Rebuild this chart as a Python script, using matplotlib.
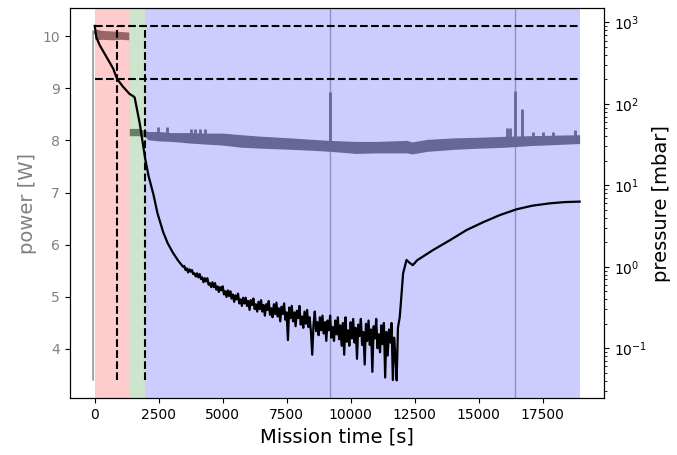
import numpy as np
import matplotlib
matplotlib.use('Agg')
import matplotlib.pyplot as plt

# power band (envelope)
band_t = [0, 300, 700, 1000, 1330, 1350, 1700, 1960, 2100, 2500, 3000, 3700, 4300, 5000, 5700, 6500,
          7600, 8500, 9200, 10200, 11000, 12200, 12400, 13000, 14100, 15000, 16100, 17000, 18000, 18950]
band_lo = [9.93, 9.94, 9.93, 9.94, 9.93, 8.09, 8.09, 8.07, 8.01, 7.99, 7.98, 7.95, 7.93, 7.91, 7.87, 7.85,
           7.83, 7.81, 7.79, 7.75, 7.76, 7.76, 7.74, 7.79, 7.83, 7.85, 7.87, 7.90, 7.92, 7.94]
band_hi = [10.14, 10.11, 10.10, 10.09, 10.08, 8.23, 8.23, 8.19, 8.17, 8.17, 8.15, 8.15, 8.14, 8.14, 8.11, 8.08,
           8.05, 8.02, 8.00, 7.98, 7.98, 8.00, 7.97, 8.02, 8.05, 8.06, 8.08, 8.09, 8.10, 8.11]
power_start_t = [-65, -65, 0]
power_start = [3.4, 10.1, 10.05]
spike_t = [2475, 2827, 3780, 3910, 4105, 4300, 9187, 16094, 16240, 16420, 16705, 17130, 17520, 17900, 18760]
spike_base = [8.1, 8.1, 8.05, 8.05, 8.05, 8.05, 7.9, 8.0, 8.0, 8.0, 8.0, 8.0, 8.0, 8.0, 8.05]
spike_w = [8.26, 8.26, 8.22, 8.22, 8.22, 8.22, 8.93, 8.24, 8.24, 8.95, 8.61, 8.17, 8.17, 8.17, 8.19]
event_t = [9187, 16420]

# pressure (log10 mbar): pump-down, noisy floor, venting
p_t_start = [0, 60, 195, 456, 717, 872, 1107, 1368, 1498, 1560, 1759, 1970, 2100, 2200, 2300, 2450,
             2670, 2850, 3061, 3250, 3452]
p_log_start = [2.957, 2.82, 2.72, 2.578, 2.436, 2.307, 2.21, 2.12, 2.096, 2.08, 1.76, 1.33, 1.12, 1.00, 0.88,
               0.66, 0.43, 0.29, 0.17, 0.08, 0.0]
p_t_noisy = list(range(3500, 11900, 50))
p_log_noisy = [
    0.01, -0.04, -0.02, -0.07, -0.03, -0.06, -0.04, -0.09, -0.08, -0.12,
    -0.08, -0.13, -0.09, -0.15, -0.13, -0.19, -0.14, -0.18, -0.14, -0.22,
    -0.20, -0.25, -0.19, -0.25, -0.20, -0.28, -0.24, -0.31, -0.25, -0.29,
    -0.24, -0.34, -0.30, -0.37, -0.29, -0.36, -0.30, -0.39, -0.34, -0.43,
    -0.35, -0.40, -0.33, -0.45, -0.40, -0.48, -0.38, -0.45, -0.38, -0.48,
    -0.42, -0.53, -0.41, -0.47, -0.39, -0.52, -0.46, -0.55, -0.43, -0.52,
    -0.41, -0.55, -0.47, -0.60, -0.46, -0.53, -0.42, -0.59, -0.51, -0.62,
    -0.46, -0.58, -0.44, -0.61, -0.51, -0.67, -0.49, -0.58, -0.45, -0.65,
    -0.56, -0.90, -0.50, -0.63, -0.48, -0.67, -0.56, -0.73, -0.54, -0.63,
    -0.48, -0.71, -0.61, -0.75, -0.55, -0.70, -0.53, -0.74, -0.62, -0.80,
    -1.08, -0.71, -0.55, -0.79, -0.68, -0.84, -0.62, -0.78, -0.60, -0.82,
    -0.68, -0.91, -0.66, -0.78, -0.60, -0.87, -0.74, -0.91, -0.66, -0.83,
    -0.62, -0.89, -0.72, -0.97, -0.69, -1.08, -0.62, -0.92, -0.78, -0.97,
    -0.68, -0.88, -0.64, -0.93, -0.75, -1.13, -0.71, -0.85, -0.64, -0.96,
    -0.80, -1.20, -0.70, -0.91, -0.66, -0.96, -0.77, -1.29, -0.73, -0.88,
    -0.64, -1.00, -0.83, -1.05, -0.72, -0.95, -0.69, -1.36, -0.80, -1.09,
    -0.77, -0.93, -0.69, -1.39, -0.87, -1.09, -1.395, -0.75,
]
p_t_end = [11923, 12052, 12185, 12300, 12432, 12600, 13225, 13900, 14531, 15200, 15833, 16486, 17100,
           17787, 18400, 18950]
p_log_end = [-0.61, -0.08, 0.084, 0.05, 0.02, 0.08, 0.206, 0.33, 0.451, 0.55, 0.635, 0.706, 0.75,
             0.779, 0.795, 0.80]

phases = [(0, 1340, 'red'), (1340, 1960, 'green'), (1960, 18960, 'blue')]
dash_t = [872, 1960]
dash_p = [906, 203]

p_t = p_t_start + p_t_noisy + p_t_end
pressure = 10 ** np.array(p_log_start + p_log_noisy + p_log_end)

fig, ax1 = plt.subplots(figsize=(6.77, 4.55), dpi=100)
plt.subplots_adjust(left=0.103, right=0.892, bottom=0.125, top=0.982)

ax1.fill_between(band_t, band_lo, band_hi, color='gray', lw=0)
ax1.plot(power_start_t, power_start, color='gray', lw=1)
ax1.vlines(spike_t, spike_base, spike_w, colors='gray', lw=2)
for t in event_t:
    ax1.axvline(t, color='gray', lw=1, alpha=0.6)
ax1.set_ylim(3.054, 10.537)
ax1.set_xlim(-977, 19898)
ax1.set_ylabel('power [W]', color='gray', fontsize=14)
ax1.tick_params(axis='y', labelcolor='gray')
ax1.set_xlabel('Mission time [s]', fontsize=14)

ax2 = ax1.twinx()
for start, end, c in phases:
    ax2.axvspan(start, end, color=c, alpha=0.2, lw=0)
ax2.plot(p_t, pressure, color='k', lw=1.6)
ax2.vlines(dash_t, pressure.min(), pressure.max(), colors='k', linestyles='--', lw=1.5)
ax2.hlines(dash_p, 0, 18950, colors='k', linestyles='--', lw=1.5)
ax2.set_yscale('log')
ax2.set_ylim(0.0244, 1496)
ax2.set_ylabel('pressure [mbar]', fontsize=14)

plt.savefig('out.png')
